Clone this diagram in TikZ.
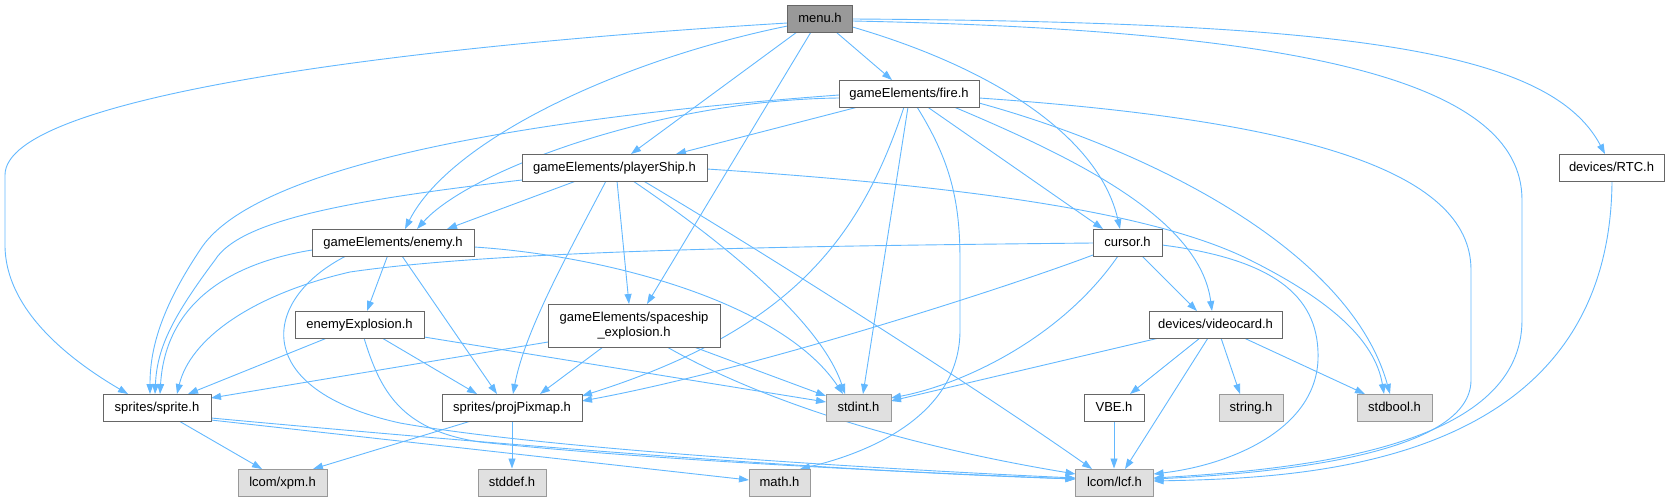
\documentclass[tikz,border=0pt]{standalone}
\usepackage{fontspec}
\setmainfont{Liberation Sans}
\usetikzlibrary{arrows.meta,calc}
\pgfdeclarelayer{bg}
\pgfsetlayers{bg,main}
\definecolor{edgec}{HTML}{63B8FF}
\definecolor{bord}{HTML}{666666}
\definecolor{sysbord}{HTML}{999999}
\definecolor{sysfill}{HTML}{E0E0E0}
\definecolor{rootfill}{HTML}{999999}
\begin{document}
\begin{tikzpicture}[x=1pt,y=-1pt,
  box/.style={draw=bord, fill=white, line width=1pt, minimum height=27pt, inner sep=0pt, text height=9.6pt, text depth=2.6pt, font=\fontsize{13}{15.5}\selectfont},
  sysbox/.style={box, draw=sysbord, fill=sysfill},
  rootbox/.style={box, draw=bord, fill=rootfill},
  dep/.style={draw=edgec, line width=0.9pt, -{Triangle[length=10pt,width=7pt]}}]
\useasboundingbox (0,0) rectangle (1670,501);
% nodes
\node[rootbox, minimum width=65pt] (menu) at (820,18.5) {menu.h};
\node[box, minimum width=140pt] (fire) at (909,93.5) {gameElements/fire.h};
\node[box, minimum width=185pt] (player) at (614.5,167.5) {gameElements/playerShip.h};
\node[box, minimum width=162pt] (enemy) at (393,242.5) {gameElements/enemy.h};
\node[box, minimum width=69pt] (cursor) at (1127.5,242.5) {cursor.h};
\node[box, minimum width=105pt] (rtc) at (1611.5,167.5) {devices/RTC.h};
\node[box, minimum width=129pt] (eexp) at (359.5,324.5) {enemyExplosion.h};
\node[box, minimum width=172pt, minimum height=43pt, text height=, text depth=, align=center] (sexp) at (634,325.5) {gameElements/spaceship\\\_explosion.h};
\node[box, minimum width=133pt] (video) at (1215.5,324.5) {devices/videocard.h};
\node[box, minimum width=108pt] (sprite) at (157,407.5) {sprites/sprite.h};
\node[box, minimum width=140pt] (pix) at (512,407.5) {sprites/projPixmap.h};
\node[sysbox, minimum width=65pt] (stdint) at (858.5,407.5) {stdint.h};
\node[box, minimum width=60pt] (vbe) at (1114,407.5) {VBE.h};
\node[sysbox, minimum width=64pt] (string) at (1251,407.5) {string.h};
\node[sysbox, minimum width=75pt] (stdbool) at (1394.5,407.5) {stdbool.h};
\node[sysbox, minimum width=89pt] (xpm) at (282.5,482.5) {lcom/xpm.h};
\node[sysbox, minimum width=68pt] (stddef) at (512,482.5) {stddef.h};
\node[sysbox, minimum width=61pt] (math) at (779.5,482.5) {math.h};
\node[sysbox, minimum width=78pt] (lcf) at (1114.5,482.5) {lcom/lcf.h};
\begin{pgfonlayer}{bg}
% menu.h
\draw[dep] ($(menu.center)+(-32.5,4.5)$) .. controls (420,45) and (5,95) .. (5,175) -- (5,245) .. controls (5,310) and (70,360) .. ($(sprite.center)+(-29,-13.5)$);
\draw[dep] ($(menu.center)+(-32.5,7.5)$) .. controls (620,60) and (450,140) .. ($(enemy.center)+(12,-13.5)$);
\draw[dep] ($(menu.center)+(-23,13.5)$) -- ($(player.center)+(16.5,-13.5)$);
\draw[dep] ($(menu.center)+(-9,13.5)$) -- ($(sexp.center)+(13,-21.5)$);
\draw[dep] ($(menu.center)+(16,13.5)$) -- ($(fire.center)+(-17,-13.5)$);
\draw[dep] ($(menu.center)+(32.5,8.5)$) .. controls (1000,70) and (1100,140) .. ($(cursor.center)+(-7.5,-13.5)$);
\draw[dep] ($(menu.center)+(32.5,0.5)$) .. controls (1350,22) and (1550,50) .. ($(rtc.center)+(-6.5,-13.5)$);
\draw[dep] ($(menu.center)+(32.5,2.5)$) .. controls (1300,30) and (1522,80) .. (1522,200) -- (1522,320) .. controls (1522,440) and (1330,468) .. ($(lcf.center)+(39,-4.5)$);
% fire.h
\draw[dep] ($(fire.center)+(70,4.5)$) .. controls (1300,120) and (1471,170) .. (1471,270) -- (1471,380) .. controls (1471,450) and (1300,472) .. ($(lcf.center)+(39,-3.5)$);
\draw[dep] ($(fire.center)+(-70,1.5)$) .. controls (500,120) and (250,170) .. (200,250) .. controls (160,310) and (150,350) .. ($(sprite.center)+(-7,-13.5)$);
\draw[dep] ($(fire.center)+(-70,4.5)$) .. controls (660,100) and (470,170) .. ($(enemy.center)+(24,-13.5)$);
\draw[dep] ($(fire.center)+(-51,13.5)$) -- ($(player.center)+(61.5,-13.5)$);
\draw[dep] ($(fire.center)+(-5,13.5)$) .. controls (860,240) and (790,330) .. ($(pix.center)+(70,-11.5)$);
\draw[dep] ($(fire.center)+(-1,13.5)$) -- ($(stdint.center)+(4.5,-13.5)$);
\draw[dep] ($(fire.center)+(8,13.5)$) .. controls (950,160) and (960,200) .. (960,260) -- (960,330) .. controls (960,410) and (880,450) .. ($(math.center)+(20.5,-13.5)$);
\draw[dep] ($(fire.center)+(18.5,13.5)$) -- ($(cursor.center)+(-24.5,-13.5)$);
\draw[dep] ($(fire.center)+(45,13.5)$) .. controls (1080,160) and (1200,220) .. ($(video.center)+(-3.5,-13.5)$);
\draw[dep] ($(fire.center)+(70,9.5)$) .. controls (1150,150) and (1350,250) .. ($(stdbool.center)+(-4.5,-13.5)$);
% playerShip.h
\draw[dep] ($(player.center)+(92.5,1.5)$) .. controls (950,185) and (1150,210) .. (1250,260) .. controls (1330,300) and (1375,340) .. ($(stdbool.center)+(-10.5,-13.5)$);
\draw[dep] ($(player.center)+(-38.5,13.5)$) -- ($(enemy.center)+(54,-13.5)$);
\draw[dep] ($(player.center)+(-92.5,12.5)$) .. controls (350,200) and (240,220) .. (215,260) .. controls (170,320) and (157,350) .. ($(sprite.center)+(-2,-13.5)$);
\draw[dep] ($(player.center)+(-8.5,13.5)$) .. controls (570,250) and (525,330) .. ($(pix.center)+(1,-13.5)$);
\draw[dep] ($(player.center)+(2.5,13.5)$) -- ($(sexp.center)+(-5,-21.5)$);
\draw[dep] ($(player.center)+(18.5,13.5)$) .. controls (720,240) and (820,320) .. ($(stdint.center)+(-13.5,-13.5)$);
\draw[dep] ($(player.center)+(29,13.5)$) .. controls (760,250) and (980,390) .. ($(lcf.center)+(-22.5,-13.5)$);
% enemy.h
\draw[dep] ($(enemy.center)+(-81,7.5)$) .. controls (220,265) and (165,310) .. ($(sprite.center)+(3,-13.5)$);
\draw[dep] ($(enemy.center)+(-5.5,13.5)$) -- ($(eexp.center)+(7.5,-13.5)$);
\draw[dep] ($(enemy.center)+(9,13.5)$) -- ($(pix.center)+(-15,-13.5)$);
\draw[dep] ($(enemy.center)+(81,4.5)$) .. controls (600,255) and (780,300) .. ($(stdint.center)+(-15.5,-13.5)$);
\draw[dep] ($(enemy.center)+(-47,13.5)$) .. controls (260,300) and (250,390) .. (400,423) .. controls (550,450) and (900,470) .. ($(lcf.center)+(-39,-4.5)$);
% enemyExplosion.h
\draw[dep] ($(eexp.center)+(4.5,13.5)$) .. controls (380,390) and (400,430) .. (480,442) .. controls (650,460) and (900,472) .. ($(lcf.center)+(-39,-3.5)$);
\draw[dep] ($(eexp.center)+(-32.5,13.5)$) -- ($(sprite.center)+(31,-13.5)$);
\draw[dep] ($(eexp.center)+(22.5,13.5)$) -- ($(pix.center)+(-35,-13.5)$);
\draw[dep] ($(eexp.center)+(64.5,12.5)$) -- ($(stdint.center)+(-32.5,-5.5)$);
% spaceship_explosion.h
\draw[dep] ($(sexp.center)+(-86,16.5)$) -- ($(sprite.center)+(54,-9.5)$);
\draw[dep] ($(sexp.center)+(-31,21.5)$) -- ($(pix.center)+(28,-13.5)$);
\draw[dep] ($(sexp.center)+(60,21.5)$) -- ($(stdint.center)+(-32.5,-11.5)$);
\draw[dep] ($(sexp.center)+(33,21.5)$) .. controls (760,400) and (900,445) .. ($(lcf.center)+(-39,-8.5)$);
% cursor.h
\draw[dep] ($(cursor.center)+(-34.5,0.5)$) .. controls (800,246) and (500,250) .. (350,272) .. controls (250,295) and (190,340) .. ($(sprite.center)+(20,-13.5)$);
\draw[dep] ($(cursor.center)+(-34.5,12.5)$) .. controls (1000,290) and (750,370) .. ($(pix.center)+(70,-6.5)$);
\draw[dep] ($(cursor.center)+(-9.5,13.5)$) .. controls (1060,340) and (960,385) .. ($(stdint.center)+(32.5,-9.5)$);
\draw[dep] ($(cursor.center)+(14.5,13.5)$) -- ($(video.center)+(-18.5,-13.5)$);
\draw[dep] ($(cursor.center)+(34.5,2.5)$) .. controls (1280,260) and (1320,300) .. (1318,360) .. controls (1315,430) and (1230,465) .. ($(lcf.center)+(39,-8.5)$);
% videocard.h
\draw[dep] ($(video.center)+(-56.5,13.5)$) -- ($(stdint.center)+(32.5,-6.5)$);
\draw[dep] ($(video.center)+(-15.5,13.5)$) -- ($(vbe.center)+(16,-13.5)$);
\draw[dep] ($(video.center)+(-7.5,13.5)$) -- ($(lcf.center)+(10.5,-13.5)$);
\draw[dep] ($(video.center)+(5.5,13.5)$) -- ($(string.center)+(-11,-13.5)$);
\draw[dep] ($(video.center)+(28.5,13.5)$) -- ($(stdbool.center)+(-29.5,-13.5)$);
% VBE.h, RTC.h
\draw[dep] (vbe.south) -- (vbe.south |- lcf.north);
\draw[dep] ($(rtc.center)+(0.5,13.5)$) .. controls (1610,470) and (1300,478) .. ($(lcf.center)+(39,-1.5)$);
% sprite.h
\draw[dep] ($(sprite.center)+(54,10.5)$) .. controls (450,440) and (800,470) .. ($(lcf.center)+(-39,-3.5)$);
\draw[dep] ($(sprite.center)+(54,12.5)$) -- ($(math.center)+(-30.5,-2.5)$);
\draw[dep] ($(sprite.center)+(22,13.5)$) -- ($(xpm.center)+(-20.5,-13.5)$);
% projPixmap.h
\draw[dep] ($(pix.center)+(-41,13.5)$) -- ($(xpm.center)+(30.5,-13.5)$);
\draw[dep] (pix.south) -- (stddef.north);
\end{pgfonlayer}
\end{tikzpicture}
\end{document}
